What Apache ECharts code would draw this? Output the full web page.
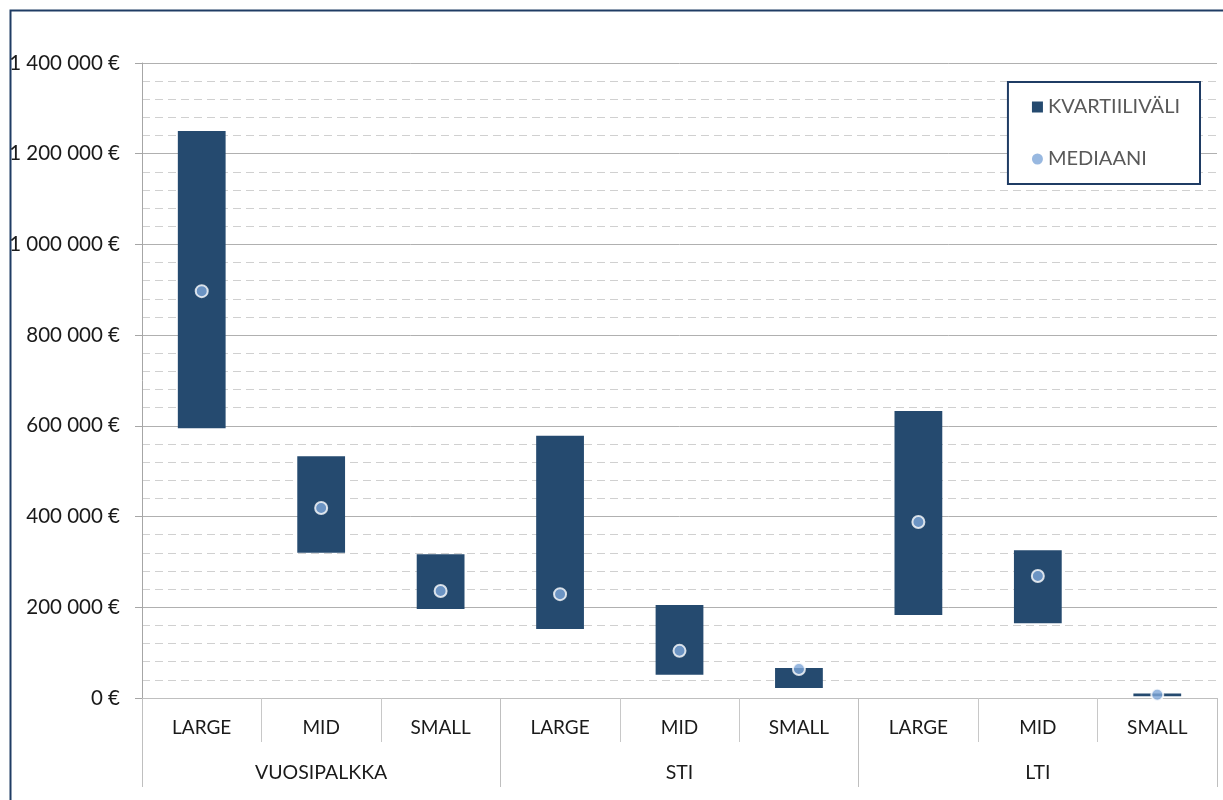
<!DOCTYPE html>
<html>
<head>
<meta charset="utf-8">
<script src="https://cdn.jsdelivr.net/npm/echarts@6/dist/echarts.min.js"></script>
<style>html,body{margin:0;padding:0;background:#fff}#c{width:1223px;height:800px}</style>
</head>
<body>
<div id="c"></div>
<script>
const categories = ['LARGE','MID','SMALL','LARGE','MID','SMALL','LARGE','MID','SMALL'];
const groups = ['VUOSIPALKKA','STI','LTI'];
const q1 = [595000, 320000, 196000, 152000, 51000, 22000, 183000, 165000, 4000];
const q3 = [1250000, 533000, 317000, 578000, 205000, 66000, 633000, 326000, 10000];
const median = [897000, 419000, 236000, 229000, 104000, 64000, 388000, 269000, 7000];
const yTicks = {min: 0, max: 1400000, interval: 200000};

const iqr = q3.map((v, i) => v - q1[i]);
const fmt = v => String(v).replace(/\B(?=(\d{3})+(?!\d))/g, ' ') + ' €';
const FONT = 'Lato';

const chart = echarts.init(document.getElementById('c'), null, {renderer: 'canvas'});
chart.setOption({
  animation: false,
  backgroundColor: '#fff',
  textStyle: {fontFamily: FONT},
  graphic: [{
    type: 'rect', left: 8, top: 8, z: -1,
    shape: {x: 0, y: 0, width: 1240, height: 820},
    style: {fill: 'none', stroke: '#1f3c64', lineWidth: 2}
  }],
  grid: {left: 142, right: 6, top: 63, bottom: 102, containLabel: false},
  legend: {
    right: 23, top: 82, orient: 'vertical',
    data: [
      {name: 'KVARTIILIVÄLI', icon: 'rect'},
      {name: 'MEDIAANI', icon: 'circle', itemStyle: {borderWidth: 0}}
    ],
    itemWidth: 11, itemHeight: 11, itemGap: 32,
    padding: [15, 20, 15, 24],
    borderColor: '#1f3c64', borderWidth: 2, backgroundColor: '#fff',
    textStyle: {fontFamily: FONT, fontSize: 20, color: '#595959'}
  },
  xAxis: [{
    type: 'category', data: categories, position: 'bottom',
    axisLine: {show: true, lineStyle: {color: '#bfbfbf', width: 1}},
    axisTick: {show: true, interval: 0, length: 44, lineStyle: {color: '#c8c8c8'}},
    axisLabel: {interval: 0, margin: 20, fontFamily: FONT, fontSize: 19, color: '#1a1a1a'},
    splitLine: {show: false}
  }, {
    type: 'category', data: groups, position: 'bottom',
    axisLine: {show: false},
    axisTick: {show: true, interval: 0, length: 89, lineStyle: {color: '#bfbfbf'}},
    axisLabel: {interval: 0, margin: 65, fontFamily: FONT, fontSize: 19.5, color: '#1a1a1a'},
    splitLine: {show: false}
  }],
  yAxis: {
    type: 'value', min: yTicks.min, max: yTicks.max, interval: yTicks.interval,
    axisLine: {show: true, lineStyle: {color: '#a6a6a6'}},
    axisTick: {show: true, length: 7, lineStyle: {color: '#a6a6a6'}},
    axisLabel: {formatter: fmt, fontFamily: FONT, fontSize: 20.5, color: '#1a1a1a', margin: 22},
    splitLine: {show: true, lineStyle: {color: '#b0b0b0', width: 1}},
    minorTick: {show: false, splitNumber: 5},
    minorSplitLine: {show: true, lineStyle: {color: '#d0d0d0', type: [8, 5], width: 1}}
  },
  series: [{
    name: 'base', type: 'bar', stack: 'r', data: q1, barWidth: '40%',
    itemStyle: {color: 'transparent'}, silent: true
  }, {
    name: 'KVARTIILIVÄLI', type: 'bar', stack: 'r', data: iqr, barWidth: '40%',
    itemStyle: {color: '#254a6f'}
  }, {
    name: 'MEDIAANI', type: 'scatter', data: median, symbol: 'circle', symbolSize: 12,
    itemStyle: {color: '#7ea6d8', borderColor: '#ffffff', borderWidth: 2}, z: 5
  }]
});
</script>
</body>
</html>
